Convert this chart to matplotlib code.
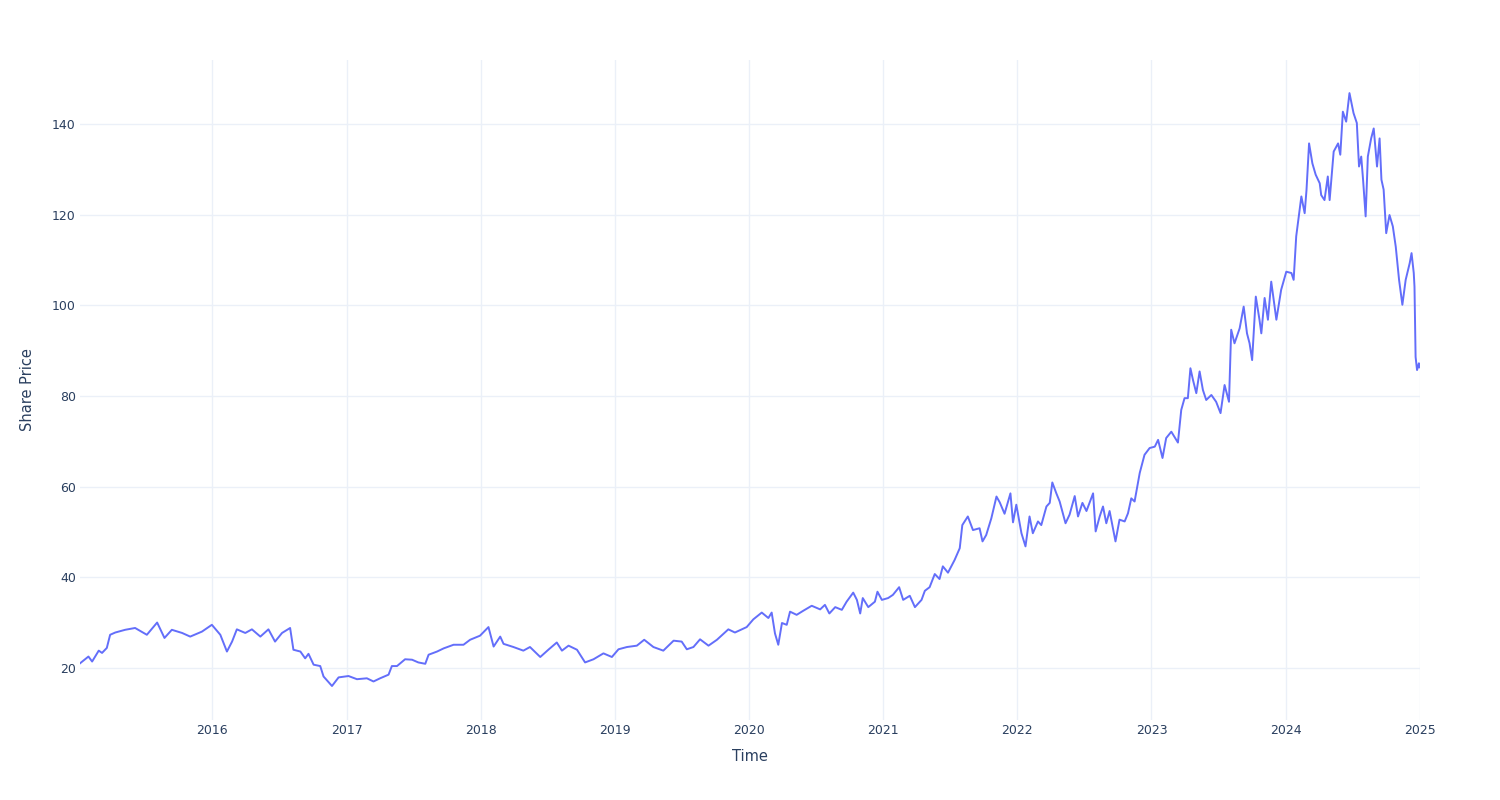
import matplotlib
matplotlib.use("Agg")
import matplotlib.pyplot as plt
import pandas as pd

# ---- data ----
dates = [
    "2015-01-06", "2015-01-29", "2015-02-08", "2015-02-26", "2015-03-07", "2015-03-20", "2015-03-29",
    "2015-04-12", "2015-05-09", "2015-06-05", "2015-07-07", "2015-08-04", "2015-08-24", "2015-09-13",
    "2015-10-11", "2015-11-02", "2015-12-04", "2015-12-31",
    "2016-01-23", "2016-02-10", "2016-02-24", "2016-03-08", "2016-03-31", "2016-04-18", "2016-05-11",
    "2016-06-02", "2016-06-20", "2016-07-09", "2016-07-31", "2016-08-09", "2016-08-28", "2016-09-10",
    "2016-09-19", "2016-10-03", "2016-10-21", "2016-10-30", "2016-11-22", "2016-12-10",
    "2017-01-06", "2017-01-29", "2017-02-25", "2017-03-15", "2017-04-02", "2017-04-25", "2017-05-04",
    "2017-05-18", "2017-06-09", "2017-06-28", "2017-07-15", "2017-08-03", "2017-08-12", "2017-09-04",
    "2017-09-22", "2017-10-19", "2017-11-15", "2017-12-03", "2017-12-30",
    "2018-01-22", "2018-02-05", "2018-02-23", "2018-03-04", "2018-03-31", "2018-04-27", "2018-05-15",
    "2018-06-12", "2018-07-04", "2018-07-27", "2018-08-10", "2018-08-28", "2018-09-20", "2018-10-12",
    "2018-11-04", "2018-12-01", "2018-12-24",
    "2019-01-11", "2019-02-03", "2019-03-02", "2019-03-22", "2019-04-16", "2019-05-13", "2019-06-10",
    "2019-07-02", "2019-07-16", "2019-08-03", "2019-08-21", "2019-09-13", "2019-10-06", "2019-11-06",
    "2019-11-24", "2019-12-26",
    "2020-01-13", "2020-02-05", "2020-02-23", "2020-03-03", "2020-03-12", "2020-03-21", "2020-03-31",
    "2020-04-13", "2020-04-22", "2020-05-10", "2020-05-28", "2020-06-20", "2020-07-13", "2020-07-26",
    "2020-08-07", "2020-08-23", "2020-09-10", "2020-09-23", "2020-10-11", "2020-10-21", "2020-10-30",
    "2020-11-06", "2020-11-21", "2020-12-09", "2020-12-16", "2020-12-28",
    "2021-01-14", "2021-01-27", "2021-02-13", "2021-02-24", "2021-03-14", "2021-03-28", "2021-04-15",
    "2021-04-24", "2021-05-07", "2021-05-21", "2021-06-03", "2021-06-12", "2021-06-26", "2021-07-14",
    "2021-07-28", "2021-08-04", "2021-08-19", "2021-09-02", "2021-09-20", "2021-09-28", "2021-10-08",
    "2021-10-22", "2021-11-05", "2021-11-14", "2021-11-27", "2021-12-13", "2021-12-20", "2021-12-29",
    "2022-01-12", "2022-01-23", "2022-02-03", "2022-02-12", "2022-02-26", "2022-03-07", "2022-03-21",
    "2022-03-30", "2022-04-06", "2022-04-17", "2022-04-26", "2022-05-12", "2022-05-23", "2022-06-06",
    "2022-06-15", "2022-06-27", "2022-07-08", "2022-07-26", "2022-08-02", "2022-08-13", "2022-08-22",
    "2022-08-31", "2022-09-09", "2022-09-25", "2022-10-06", "2022-10-20", "2022-10-29", "2022-11-07",
    "2022-11-16", "2022-11-30", "2022-12-13", "2022-12-27",
    "2023-01-10", "2023-01-19", "2023-01-31", "2023-02-10", "2023-02-24", "2023-03-14", "2023-03-23",
    "2023-04-01", "2023-04-10", "2023-04-17", "2023-04-24", "2023-05-03", "2023-05-12", "2023-05-21",
    "2023-05-30", "2023-06-13", "2023-06-26", "2023-07-08", "2023-07-19", "2023-07-31", "2023-08-06",
    "2023-08-15", "2023-08-29", "2023-09-09", "2023-09-18", "2023-09-25", "2023-10-02", "2023-10-12",
    "2023-10-22", "2023-10-27", "2023-11-05", "2023-11-14", "2023-11-23", "2023-12-07", "2023-12-20",
    "2024-01-03", "2024-01-17", "2024-01-23", "2024-01-30", "2024-02-07", "2024-02-13", "2024-02-22",
    "2024-02-27", "2024-03-05", "2024-03-14", "2024-03-23", "2024-04-03", "2024-04-07", "2024-04-16",
    "2024-04-25", "2024-04-30", "2024-05-11", "2024-05-23", "2024-05-29", "2024-06-05", "2024-06-14",
    "2024-06-23", "2024-07-04", "2024-07-13", "2024-07-19", "2024-07-25", "2024-07-30", "2024-08-06",
    "2024-08-12", "2024-08-21", "2024-08-28", "2024-09-06", "2024-09-13", "2024-09-18", "2024-09-24",
    "2024-10-01", "2024-10-10", "2024-10-19", "2024-10-27", "2024-11-05", "2024-11-14", "2024-11-23",
    "2024-12-04", "2024-12-09", "2024-12-15", "2024-12-17", "2024-12-20", "2024-12-24", "2024-12-29",
    "2024-12-31",
]

prices = [
    21.0, 22.5, 21.4, 23.8, 23.3, 24.4, 27.3,
    27.8, 28.4, 28.8, 27.3, 30.0, 26.6, 28.4,
    27.7, 26.9, 28.0, 29.5,
    27.3, 23.6, 25.8, 28.5, 27.7, 28.5, 26.9,
    28.5, 25.8, 27.7, 28.8, 24.0, 23.6, 22.1,
    23.1, 20.7, 20.4, 18.1, 16.0, 17.9,
    18.2, 17.5, 17.7, 17.0, 17.7, 18.5, 20.4,
    20.4, 21.9, 21.8, 21.2, 20.9, 22.9, 23.6,
    24.3, 25.1, 25.1, 26.2, 27.1,
    29.0, 24.7, 26.9, 25.3, 24.6, 23.8, 24.6,
    22.4, 24.0, 25.6, 23.8, 24.9, 24.0, 21.2,
    21.9, 23.2, 22.4,
    24.1, 24.6, 24.9, 26.2, 24.6, 23.8, 26.0,
    25.8, 24.1, 24.6, 26.3, 24.9, 26.2, 28.5,
    27.8, 29.0,
    30.7, 32.2, 31.0, 32.2, 27.6, 25.1, 29.9,
    29.5, 32.4, 31.7, 32.6, 33.7, 32.9, 33.9,
    32.0, 33.4, 32.8, 34.6, 36.6, 35.0, 32.0,
    35.4, 33.4, 34.6, 36.8, 35.0,
    35.4, 36.1, 37.8, 35.0, 35.9, 33.4, 35.0,
    37.0, 37.8, 40.7, 39.6, 42.4, 41.0, 43.8,
    46.4, 51.5, 53.4, 50.4, 50.8, 47.9, 49.3,
    53.0, 57.8, 56.5, 54.0, 58.5, 52.1, 56.0,
    49.7, 46.8, 53.4, 49.7, 52.3, 51.5, 55.6,
    56.4, 60.9, 58.5, 56.7, 51.9, 53.8, 57.9,
    53.4, 56.4, 54.6, 58.5, 50.1, 53.4, 55.6,
    51.9, 54.6, 47.9, 52.7, 52.3, 54.1, 57.4,
    56.7, 63.0, 67.0, 68.5,
    68.8, 70.3, 66.3, 70.7, 72.1, 69.7, 76.9,
    79.5, 79.5, 86.1, 83.5, 80.6, 85.4, 81.3,
    79.1, 80.2, 78.7, 76.2, 82.4, 78.7, 94.6,
    91.6, 94.9, 99.7, 93.8, 91.6, 87.9, 101.9,
    96.8, 93.8, 101.6, 96.8, 105.2, 96.8, 103.4,
    107.4, 107.1, 105.6, 115.2, 120.3, 124.0, 120.3,
    125.4, 135.7, 131.3, 128.8, 126.9, 124.3, 123.2,
    128.4, 123.2, 133.9, 135.7, 133.2, 142.7, 140.5,
    146.8, 142.4, 140.2, 130.6, 132.8, 127.7, 119.6,
    132.8, 136.8, 139.0, 130.6, 136.8, 127.7, 125.5,
    115.9, 119.9, 117.4, 112.9, 105.6, 100.1, 105.6,
    109.3, 111.5, 107.1, 104.1, 88.6, 85.7, 87.2,
    86.3,
]

y_ticks = [20, 40, 60, 80, 100, 120, 140]
x_tick_years = [2016, 2017, 2018, 2019, 2020, 2021, 2022, 2023, 2024, 2025]
x_label = "Time"
y_label = "Share Price"

# ---- styling (plotly-white look) ----
LINE = "#636EFA"
GRID = "#EBF0F8"
TEXT = "#2a3f5f"

df = pd.DataFrame({"date": pd.to_datetime(dates), "price": prices})

fig = plt.figure(figsize=(15, 8), dpi=100)
ax = fig.add_axes([80 / 1500, 80 / 800, 1340 / 1500, 660 / 800])
ax.plot(df["date"], df["price"], color=LINE, linewidth=1.4, zorder=3)

ax.set_xlim(df["date"].iloc[0], pd.Timestamp("2025-01-01"))
ax.set_ylim(8.5, 154.1)

ax.set_yticks(y_ticks)
ax.set_yticklabels([str(v) for v in y_ticks])
xt = [pd.Timestamp(f"{y}-01-01") for y in x_tick_years]
ax.set_xticks(xt)
ax.set_xticklabels([str(y) for y in x_tick_years])

ax.grid(True, color=GRID, linewidth=1.0, zorder=0)
ax.set_axisbelow(True)
for s in ax.spines.values():
    s.set_visible(False)
ax.tick_params(axis="both", length=0, colors=TEXT, labelsize=9)
ax.tick_params(axis="y", pad=3)
ax.tick_params(axis="x", pad=3)

ax.set_xlabel(x_label, fontsize=10.5, color=TEXT, labelpad=8.5)
ax.set_ylabel(y_label, fontsize=10.5, color=TEXT, labelpad=12)

fig.savefig("out.png", dpi=100, facecolor="white")
